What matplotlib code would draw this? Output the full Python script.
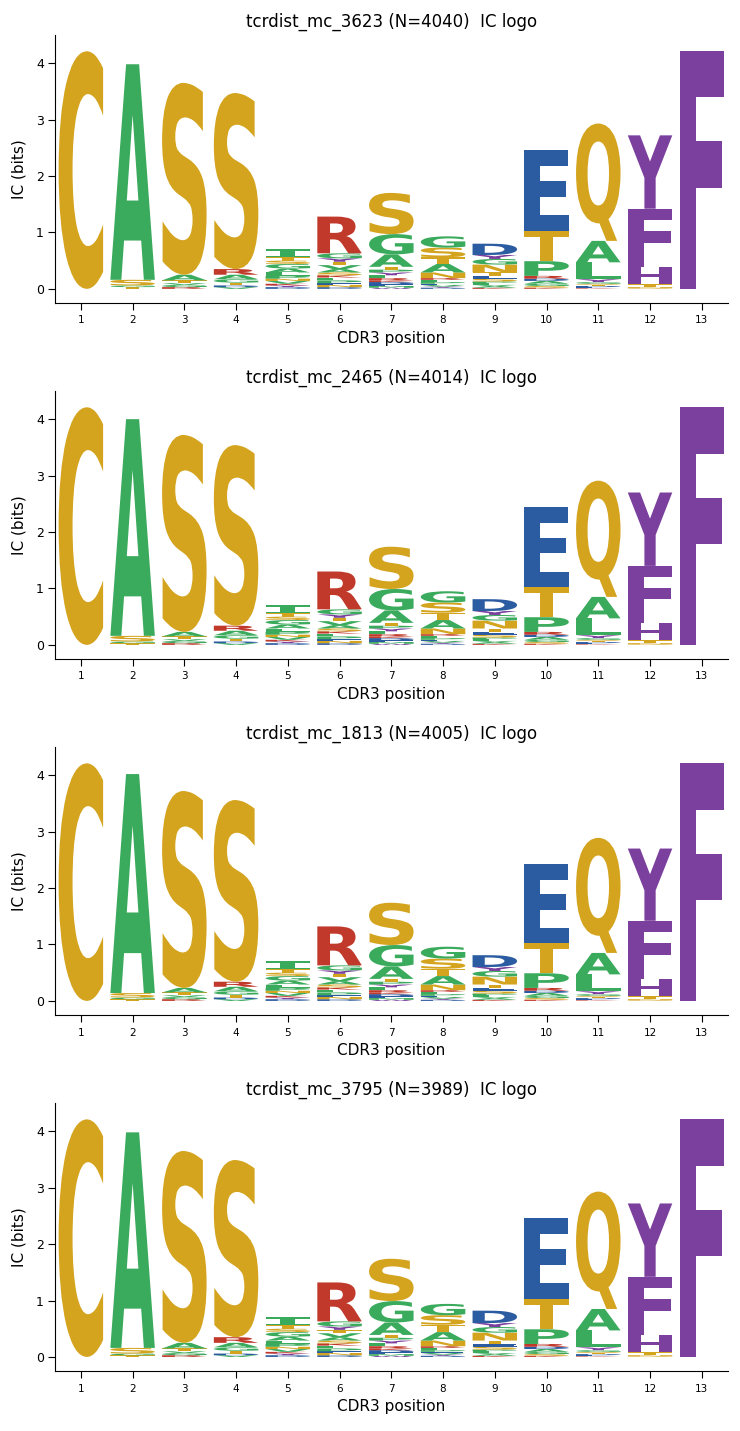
import matplotlib
matplotlib.use("Agg")
import matplotlib.pyplot as plt
from matplotlib.textpath import TextPath
from matplotlib.font_manager import FontProperties
from matplotlib.patches import PathPatch
from matplotlib.transforms import Affine2D

# ---------------- data ----------------
positions = list(range(1, 14))
titles = [
    "tcrdist_mc_3623 (N=4040)  IC logo",
    "tcrdist_mc_2465 (N=4014)  IC logo",
    "tcrdist_mc_1813 (N=4005)  IC logo",
    "tcrdist_mc_3795 (N=3989)  IC logo",
]

# small background letters per position (bottom -> top), in bits
minor_stacks = [
    [],
    [("T", 0.03), ("G", 0.03)],
    [("R", 0.03), ("G", 0.04), ("V", 0.03), ("T", 0.05)],
    [("V", 0.03), ("D", 0.03), ("T", 0.05), ("G", 0.06), ("A", 0.08)],
    [("D", 0.03), ("Y", 0.03), ("K", 0.03), ("V", 0.05), ("N", 0.04), ("P", 0.05),
     ("L", 0.06), ("A", 0.07), ("G", 0.08), ("S", 0.06)],
    [("D", 0.03), ("N", 0.04), ("E", 0.03), ("P", 0.05), ("L", 0.05), ("K", 0.04),
     ("S", 0.05), ("A", 0.06), ("V", 0.07)],
    [("W", 0.02), ("M", 0.03), ("E", 0.03), ("D", 0.04), ("K", 0.03), ("R", 0.04),
     ("L", 0.05), ("Y", 0.05), ("P", 0.05)],
    [("D", 0.02), ("Y", 0.02), ("V", 0.03), ("E", 0.02), ("P", 0.03), ("L", 0.04), ("R", 0.03)],
    [("K", 0.02), ("A", 0.03), ("V", 0.02), ("L", 0.03), ("P", 0.03), ("S", 0.05), ("E", 0.05)],
    [("K", 0.02), ("S", 0.03), ("G", 0.04), ("A", 0.05), ("D", 0.04), ("R", 0.05)],
    [("K", 0.01), ("E", 0.02), ("D", 0.02), ("T", 0.02), ("S", 0.02), ("G", 0.03), ("Y", 0.05)],
    [("S", 0.01), ("N", 0.02), ("T", 0.05)],
    [],
]

# dominant letters per position (bottom -> top)
major_letters = [
    ["C"], ["S", "A"], ["A", "S"], ["R", "S"], ["T", "I"], ["T", "Y", "G", "R"],
    ["T", "A", "G", "S"], ["N", "A", "T", "S", "G"], ["T", "N", "G", "Y", "D"],
    ["P", "T", "E"], ["L", "A", "Q"], ["H", "F", "Y"], ["F"],
]

major_heights_3623 = [
    [4.21], [0.10, 3.82], [0.10, 3.40], [0.10, 3.12], [0.06, 0.14],
    [0.06, 0.06, 0.09, 0.65], [0.05, 0.22, 0.36, 0.73], [0.10, 0.15, 0.12, 0.17, 0.20],
    [0.06, 0.14, 0.10, 0.07, 0.20], [0.26, 0.53, 1.44], [0.30, 0.38, 2.08],
    [0.30, 1.04, 1.30], [4.22],
]
major_heights_2465 = [
    [4.21], [0.10, 3.84], [0.08, 3.49], [0.09, 3.20], [0.06, 0.14],
    [0.06, 0.06, 0.09, 0.67], [0.05, 0.22, 0.38, 0.75], [0.10, 0.15, 0.13, 0.18, 0.20],
    [0.06, 0.14, 0.10, 0.07, 0.21], [0.26, 0.53, 1.42], [0.30, 0.38, 2.06],
    [0.30, 1.02, 1.30], [4.21],
]
major_heights_1813 = [
    [4.21], [0.08, 3.88], [0.08, 3.49], [0.09, 3.22], [0.06, 0.14],
    [0.06, 0.06, 0.09, 0.69], [0.05, 0.22, 0.38, 0.75], [0.10, 0.15, 0.13, 0.18, 0.21],
    [0.06, 0.14, 0.10, 0.07, 0.21], [0.26, 0.53, 1.40], [0.30, 0.38, 2.04],
    [0.30, 1.04, 1.28], [4.21],
]
major_heights_3795 = [
    [4.21], [0.10, 3.82], [0.10, 3.40], [0.10, 3.14], [0.06, 0.14],
    [0.06, 0.06, 0.09, 0.69], [0.05, 0.22, 0.38, 0.75], [0.10, 0.15, 0.13, 0.17, 0.20],
    [0.06, 0.14, 0.10, 0.07, 0.22], [0.26, 0.53, 1.45], [0.30, 0.38, 2.08],
    [0.30, 1.04, 1.30], [4.21],
]
panel_heights = [major_heights_3623, major_heights_2465, major_heights_1813, major_heights_3795]

# ---------------- style ----------------
GOLD, GREEN, BLUE, RED, PURPLE = "#D4A41F", "#3AAA5C", "#2B5BA0", "#C0392B", "#7B3F9E"
letter_colors = {}
for c in "STCQN":
    letter_colors[c] = GOLD
for c in "AGPLIMV":
    letter_colors[c] = GREEN
for c in "DE":
    letter_colors[c] = BLUE
for c in "RK":
    letter_colors[c] = RED
for c in "FYWH":
    letter_colors[c] = PURPLE

fp_main = FontProperties(family="DejaVu Sans", weight="bold")
fp_mono = FontProperties(family="DejaVu Sans Mono", weight="bold")
_path_cache = {}


def letter_path(ch):
    if ch not in _path_cache:
        prop = fp_mono if ch == "I" else fp_main
        _path_cache[ch] = TextPath((0, 0), ch, size=1, prop=prop)
    return _path_cache[ch]


def draw_letter(ax, ch, x, y, w, h):
    if h <= 0:
        return
    path = letter_path(ch)
    ext = path.get_extents()
    tr = (Affine2D().translate(-ext.x0, -ext.y0)
          .scale(w / ext.width, h / ext.height)
          .translate(x - w / 2, y))
    ax.add_patch(PathPatch(tr.transform_path(path), facecolor=letter_colors[ch],
                           edgecolor="none", lw=0))


LETTER_W = 0.86
fig = plt.figure(figsize=(7.4, 14.31), dpi=100)
bottoms = [0.7883, 0.5395, 0.2907, 0.0419]

for k in range(4):
    ax = fig.add_axes([0.0743, bottoms[k], 0.909, 0.1873])
    heights = panel_heights[k]
    for i, pos in enumerate(positions):
        y = 0.0
        for ch, h in minor_stacks[i]:
            draw_letter(ax, ch, pos, y, LETTER_W, h)
            y += h
        for ch, h in zip(major_letters[i], heights[i]):
            draw_letter(ax, ch, pos, y, LETTER_W, h)
            y += h
    ax.set_xlim(0.5, 13.5)
    ax.set_ylim(-0.25, 4.5)
    ax.set_xticks(positions)
    ax.set_xticklabels([str(p) for p in positions], fontsize=7.5)
    ax.set_yticks([0, 1, 2, 3, 4])
    ax.tick_params(axis="y", labelsize=9, length=5, pad=3)
    ax.tick_params(axis="x", length=5, pad=4)
    ax.spines["top"].set_visible(False)
    ax.spines["right"].set_visible(False)
    ax.set_xlabel("CDR3 position", fontsize=11, labelpad=4)
    ax.set_ylabel("IC (bits)", fontsize=11, labelpad=7)
    ax.set_title(titles[k], fontsize=12)

fig.savefig("out.png", dpi=100)
